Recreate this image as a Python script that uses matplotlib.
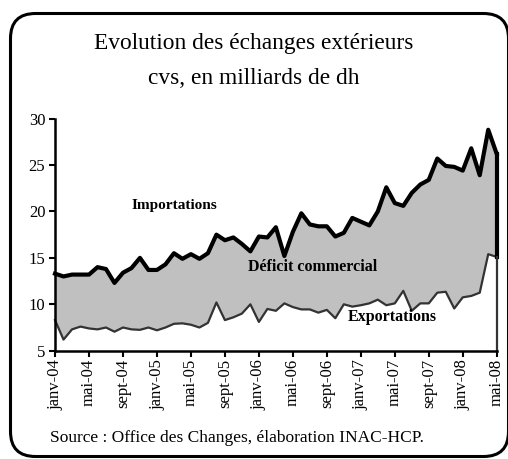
import matplotlib
matplotlib.use("Agg")
import matplotlib.pyplot as plt
from matplotlib.patches import FancyBboxPatch
from matplotlib.transforms import IdentityTransform

# Échanges extérieurs cvs, milliards de dh (janv-04 à mai-08, mensuel)
importations = [13.3, 13.0, 13.2, 13.2, 13.2, 14.0, 13.8, 12.3, 13.4, 13.9,
                15.0, 13.7, 13.7, 14.3, 15.5, 14.9, 15.4, 14.9, 15.5, 17.5,
                16.9, 17.2, 16.5, 15.7, 17.3, 17.2, 18.3, 15.2, 17.8, 19.8,
                18.6, 18.4, 18.4, 17.3, 17.7, 19.3, 18.9, 18.5, 20.0, 22.6,
                20.9, 20.6, 22.0, 22.9, 23.4, 25.7, 24.9, 24.8, 24.4, 26.8,
                23.9, 28.8, 26.2]
exportations = [8.3, 6.2, 7.3, 7.6, 7.4, 7.3, 7.5, 7.05, 7.5, 7.3,
                7.25, 7.5, 7.2, 7.5, 7.9, 7.95, 7.8, 7.5, 8.0, 10.2,
                8.3, 8.6, 9.0, 10.0, 8.1, 9.5, 9.3, 10.1, 9.7, 9.45,
                9.45, 9.1, 9.4, 8.5, 10.0, 9.75, 9.9, 10.1, 10.5, 9.9,
                10.1, 11.45, 9.3, 10.1, 10.1, 11.25, 11.35, 9.55, 10.75, 10.9,
                11.25, 15.4, 15.1]
etiquettes = ["janv-04", "mai-04", "sept-04", "janv-05", "mai-05", "sept-05",
              "janv-06", "mai-06", "sept-06", "janv-07", "mai-07", "sept-07",
              "janv-08", "mai-08"]

plt.rcParams["font.family"] = ["Liberation Serif", "DejaVu Serif"]

x = list(range(len(importations)))

fig = plt.figure(figsize=(5.08, 4.59), dpi=100)
ax = fig.add_axes([0.1083, 0.2359, 0.8695, 0.5057])

ax.fill_between(x, exportations, importations, color="#c0c0c0", lw=0)
ax.plot(x, importations, color="black", lw=3.0, clip_on=False)
ax.plot(x, exportations, color="#333333", lw=1.6, clip_on=False)
# bords droits des aires
ax.plot([x[-1], x[-1]], [exportations[-1], importations[-1]], color="black", lw=3.0, clip_on=False)
ax.plot([x[-1], x[-1]], [5, exportations[-1]], color="#333333", lw=1.6, clip_on=False)

ax.set_xlim(0, x[-1])
ax.set_ylim(5, 30)
ax.set_yticks(range(5, 31, 5))
ax.set_xticks(range(0, len(x), 4))
ax.set_xticklabels(etiquettes, rotation=90, fontsize=12)
ax.tick_params(axis="y", labelsize=12, length=4, width=1.5, pad=3)
ax.tick_params(axis="x", length=4, width=1.5, pad=2)
for s in ("top", "right"):
    ax.spines[s].set_visible(False)
for s in ("left", "bottom"):
    ax.spines[s].set_linewidth(1.8)

ax.text(14.1, 20.6, "Importations", fontweight="bold", fontsize=11, ha="center", va="center")
ax.text(30.3, 14.0, "Déficit commercial", fontweight="bold", fontsize=11.5, ha="center", va="center")
ax.text(39.7, 8.66, "Exportations", fontweight="bold", fontsize=11.5, ha="center", va="center")

fig.text(0.5, 0.905, "Evolution des échanges extérieurs", ha="center", va="center", fontsize=16.8)
fig.text(0.5, 0.829, "cvs, en milliards de dh", ha="center", va="center", fontsize=16.8)
fig.text(0.098, 0.046, "Source : Office des Changes, élaboration INAC-HCP.", ha="left", va="center", fontsize=12.5)

cadre = FancyBboxPatch((10.5, 2.5), 498, 443, boxstyle="round,pad=0,rounding_size=25",
                       transform=IdentityTransform(), fill=False, ec="black", lw=2.2)
fig.patches.append(cadre)

fig.savefig("out.png", dpi=100)
